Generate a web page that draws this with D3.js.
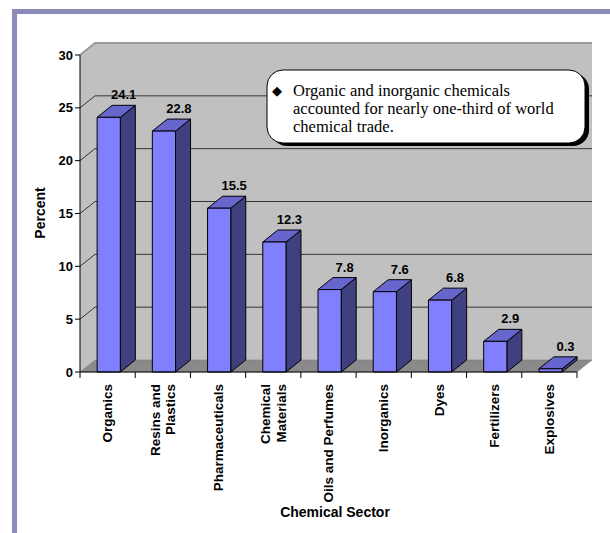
<!DOCTYPE html>
<html>
<head>
<meta charset="utf-8">
<script src="https://cdn.jsdelivr.net/npm/d3@7"></script>
<style>
  body { margin: 0; background: #fff; }
  svg { display: block; }
</style>
</head>
<body>
<div id="chart"></div>
<script>
const WIDTH = 610;
const HEIGHT = 533;

// data
const sectors = ['Organics', 'Resins and|Plastics', 'Pharmaceuticals', 'Chemical|Materials',
    'Oils and Perfumes', 'Inorganics', 'Dyes', 'Fertilizers', 'Explosives'];
const shares = [24.1, 22.8, 15.5, 12.3, 7.8, 7.6, 6.8, 2.9, 0.3];
const yTicks = [0, 5, 10, 15, 20, 25, 30];
const noteLines = ['Organic and inorganic chemicals', 'accounted for nearly one-third of world', 'chemical trade.'];

// 3d depth of wall / bars
const DX = 15;
const DY = -12;

const svg = d3.select('#chart')
    .append('svg')
    .attr('width', WIDTH)
    .attr('height', HEIGHT)
    .style('font-family', 'Arial, "Liberation Sans", sans-serif');

// slide frame
svg.append('rect').attr('x', 12).attr('y', 9).attr('width', WIDTH - 12).attr('height', 5).attr('fill', '#8b8bba');
svg.append('rect').attr('x', 12).attr('y', 9).attr('width', 5).attr('height', HEIGHT - 9).attr('fill', '#8b8bba');

const x = d3.scaleBand().domain(sectors).range([80, 577]).padding(0);
const y = d3.scaleLinear().domain([0, 30]).range([372, 55]);

const x0 = x.range()[0], x1 = x.range()[1];
const yTop = y(30), yBot = y(0);

// walls and floor
svg.append('rect')
    .attr('x', x0 + DX).attr('y', yTop + DY)
    .attr('width', x1 - x0).attr('height', yBot - yTop)
    .attr('fill', '#c0c0c0');
svg.append('polygon')
    .attr('points', [[x0, yTop], [x0 + DX, yTop + DY], [x0 + DX, yBot + DY], [x0, yBot]].join(' '))
    .attr('fill', '#c0c0c0');
svg.append('polygon')
    .attr('points', [[x0, yBot], [x0 + DX, yBot + DY], [x1 + DX, yBot + DY], [x1, yBot]].join(' '))
    .attr('fill', '#8a8a8a')
    .attr('stroke', '#777')
    .attr('stroke-width', 0.5);

// gridlines
svg.selectAll('.grid')
    .data(yTicks.slice(1))
    .enter()
    .append('polyline')
    .attr('points', d => [[x0, y(d)], [x0 + DX, y(d) + DY], [x1 + DX, y(d) + DY]].join(' '))
    .attr('fill', 'none')
    .attr('stroke', d => d === 30 ? '#9a9a9a' : '#333')
    .attr('stroke-width', d => d === 30 ? 2 : 1);

// bars
const bw = x.bandwidth();
const fw = bw * 0.42;
const bars = svg.selectAll('.bar')
    .data(shares)
    .enter()
    .append('g')
    .attr('stroke', '#000')
    .attr('stroke-width', 1)
    .attr('stroke-linejoin', 'round');

const fx = (d, i) => x(sectors[i]) + bw * 0.31;

bars.append('polygon')
    .attr('points', (d, i) => {
        const l = fx(d, i), r = l + fw, t = y(d);
        return [[r, t], [r + DX, t + DY], [r + DX, yBot + DY], [r, yBot]].join(' ');
    })
    .attr('fill', '#404080');
bars.append('polygon')
    .attr('points', (d, i) => {
        const l = fx(d, i), r = l + fw, t = y(d);
        return [[l, t], [l + DX, t + DY], [r + DX, t + DY], [r, t]].join(' ');
    })
    .attr('fill', '#6666cc');
bars.append('rect')
    .attr('x', fx)
    .attr('y', d => y(d))
    .attr('width', fw)
    .attr('height', d => yBot - y(d))
    .attr('fill', '#8080ff');

// value labels
svg.selectAll('.val')
    .data(shares)
    .enter()
    .append('text')
    .text(d => d.toFixed(1))
    .attr('x', (d, i) => fx(d, i) + fw / 2 + DX)
    .attr('y', d => y(d) + DY - 6)
    .attr('text-anchor', 'middle')
    .attr('font-size', 13)
    .attr('font-weight', 'bold')
    .attr('fill', '#000');

// y axis
svg.append('line').attr('x1', x0).attr('x2', x0).attr('y1', yTop).attr('y2', yBot + 6).attr('stroke', '#000');
svg.selectAll('.ytick')
    .data(yTicks)
    .enter()
    .append('line')
    .attr('x1', x0 - 5).attr('x2', x0)
    .attr('y1', d => y(d)).attr('y2', d => y(d))
    .attr('stroke', '#000');
svg.selectAll('.ylab')
    .data(yTicks)
    .enter()
    .append('text')
    .text(d => d)
    .attr('x', x0 - 7)
    .attr('y', d => y(d))
    .attr('dy', '0.35em')
    .attr('text-anchor', 'end')
    .attr('font-size', 13)
    .attr('font-weight', 'bold');

// x axis
svg.append('line').attr('x1', x0).attr('x2', x1).attr('y1', yBot).attr('y2', yBot).attr('stroke', '#000');
svg.selectAll('.xtick')
    .data(sectors)
    .enter()
    .append('line')
    .attr('x1', d => x(d) + bw).attr('x2', d => x(d) + bw)
    .attr('y1', yBot).attr('y2', yBot + 6)
    .attr('stroke', '#000');

const catLabels = svg.selectAll('.cat')
    .data(sectors)
    .enter()
    .append('g')
    .attr('transform', d => `translate(${x(d) + bw / 2},384) rotate(-90)`);
catLabels.each(function (d) {
    const lines = d.split('|');
    const g = d3.select(this);
    lines.forEach((s, k) => {
        g.append('text')
            .text(s)
            .attr('x', 0)
            .attr('y', (k - (lines.length - 1) / 2) * 15.5)
            .attr('dy', '0.35em')
            .attr('text-anchor', 'end')
            .attr('font-size', 13.5)
            .attr('font-weight', 'bold');
    });
});

// axis titles
svg.append('text')
    .text('Percent')
    .attr('transform', 'translate(40,213) rotate(-90)')
    .attr('dy', '0.35em')
    .attr('text-anchor', 'middle')
    .attr('font-size', 14)
    .attr('font-weight', 'bold');
svg.append('text')
    .text('Chemical Sector')
    .attr('x', 335)
    .attr('y', 512)
    .attr('dy', '0.35em')
    .attr('text-anchor', 'middle')
    .attr('font-size', 14)
    .attr('font-weight', 'bold');

// callout box
const note = svg.append('g').attr('transform', 'translate(267,70)');
note.append('rect')
    .attr('x', 4).attr('y', 3).attr('width', 318).attr('height', 73).attr('rx', 16)
    .attr('fill', '#000');
note.append('rect')
    .attr('x', 0).attr('y', 0).attr('width', 318).attr('height', 73).attr('rx', 16)
    .attr('fill', '#fff').attr('stroke', '#000').attr('stroke-width', 1);
note.append('text')
    .text('\u25C6')
    .attr('x', 5).attr('y', 25)
    .attr('font-family', '"DejaVu Sans", sans-serif')
    .attr('font-size', 13);
note.selectAll('.ln')
    .data(noteLines)
    .enter()
    .append('text')
    .text(d => d)
    .attr('x', 26)
    .attr('y', (d, i) => 26 + i * 18)
    .attr('font-family', '"Liberation Serif", "Times New Roman", serif')
    .attr('font-size', 16.5)
    .attr('fill', '#000');
</script>
</body>
</html>
